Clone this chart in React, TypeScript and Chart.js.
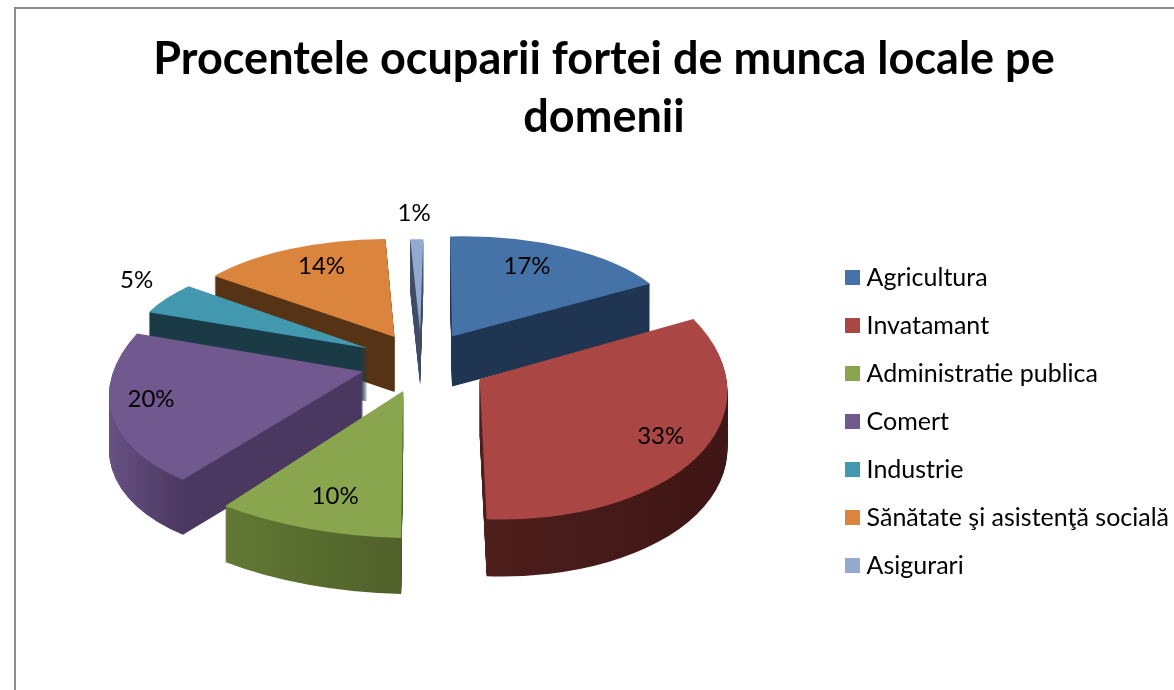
import React, { useEffect, useRef } from "react";
import { Chart, registerables } from "chart.js";
Chart.register(...registerables);

const categories = ["Agricultura", "Invatamant", "Administratie publica", "Comert", "Industrie", "Sănătate şi asistenţă socială", "Asigurari"];
const values = [17, 33, 10, 20, 5, 14, 1];
const title = ["Procentele ocuparii fortei de munca locale pe", "domenii"];

const colors = ["#4572A7", "#AA4643", "#89A54E", "#71588F", "#4198AF", "#DB843D", "#93A9CF"];
const wallStart = ["#1F3552", "#612B27", "#6F8A3C", "#6A5488", "#1A3A45", "#573315", "#3E4C66"];
const wallMid = ["#1F3552", "#4A1D1B", "#4F6029", "#4B3860", "#1A3A45", "#573315", "#3E4C66"];
const wallEnd = ["#1F3552", "#3F1615", "#4F6029", "#4B3860", "#1A3A45", "#573315", "#3E4C66"];
const wallStop = [0.5, 0.56, 0.5, 0.21, 0.5, 0.5, 0.5];

const explode = [59, 67, 61, 62, 61, 57, 60];
const depth = [50, 57, 56, 55, 53, 55, 53];
// Per-slice projection of the flat sector into the tilted 3D view: [a, b, c, d]
const projection = [
  [0.88, -0.021, 0.0078, 0.388],
  [0.96, 0.033, 0.027, 0.543],
  [1.163, 0.026, -0.0078, 0.57],
  [0.972, -0.0107, -0.157, 0.51],
  [0.92, 0.025, -0.086, 0.374],
  [0.877, 0.0166, -0.02, 0.38],
  [0.8, 0, -0.012, 0.36],
];
const labelShift = [
  [75, -70],
  [181, 57],
  [-68, 105],
  [-212, 28],
  [-231, -68],
  [-73, -71],
  [-6, -119],
];

const CX = 422, CY = 362, EXPLODE_Y = 0.5, RADIUS = 258, SWATCH = 15;

const apexOf = (el: any, i: number) => {
  const mid = (el.startAngle + el.endAngle) / 2;
  const o = explode[i];
  return { x: CX + Math.cos(mid) * o, y: CY + Math.sin(mid) * o * EXPLODE_Y };
};

const makeSwatch = (color: string) => {
  const c = document.createElement("canvas");
  c.width = SWATCH;
  c.height = SWATCH;
  const g = c.getContext("2d")!;
  g.fillStyle = color;
  g.fillRect(0, 0, SWATCH, SWATCH);
  return c;
};

const pie3d = {
  id: "pie3d",
  beforeDatasetsDraw(chart: any) {
    const meta = chart.getDatasetMeta(0);
    const ctx = chart.ctx;
    const drawAt = (el: any, i: number, d: number) => {
      const a = apexOf(el, i);
      const [p, q, r, s] = projection[i];
      ctx.save();
      ctx.translate(a.x, a.y + d);
      ctx.transform(p, q, r, s, 0, 0);
      ctx.translate(-el.x, -el.y);
      el.draw(ctx);
      ctx.restore();
    };
    meta.data.forEach((el: any) => {
      el.options.offset = 0;
    });
    const order = meta.data
      .map((_: any, i: number) => i)
      .sort((a: number, b: number) => {
        const f = (e: any) => Math.sin((e.startAngle + e.endAngle) / 2);
        return f(meta.data[a]) - f(meta.data[b]);
      });
    for (const i of order) {
      const el = meta.data[i];
      const g = ctx.createLinearGradient(el.x - RADIUS, 0, el.x + RADIUS, 0);
      g.addColorStop(0, wallStart[i]);
      g.addColorStop(wallStop[i], wallMid[i]);
      g.addColorStop(1, wallEnd[i]);
      const top = el.options.backgroundColor;
      el.options.backgroundColor = g;
      for (let d = depth[i]; d > 0; d -= 1) drawAt(el, i, d);
      el.options.backgroundColor = top;
    }
    meta.data.forEach((el: any, i: number) => drawAt(el, i, 0));
    ctx.save();
    ctx.font = "24px Lato";
    ctx.fillStyle = "#000";
    ctx.textAlign = "center";
    ctx.textBaseline = "middle";
    meta.data.forEach((el: any, i: number) => {
      const a = apexOf(el, i);
      ctx.fillText(values[i] + "%", a.x + labelShift[i][0], a.y + labelShift[i][1]);
    });
    ctx.restore();
    return false;
  },
};

export default function App() {
  const ref = useRef<HTMLCanvasElement>(null);
  useEffect(() => {
    document.body.style.margin = "0";
    const swatches = colors.map(makeSwatch);
    const baseLabels = (Chart as any).overrides.doughnut.plugins.legend.labels.generateLabels;
    const chart = new Chart(ref.current!, {
      type: "pie",
      data: {
        labels: categories,
        datasets: [{ data: values, backgroundColor: colors, borderWidth: 0, offset: explode.map((o) => o * 4), radius: RADIUS }],
      },
      options: {
        responsive: false,
        animation: false,
        layout: { padding: { left: 29, right: -5, top: 0, bottom: 0 } },
        plugins: {
          tooltip: { enabled: false },
          title: {
            display: true,
            text: title,
            color: "#000",
            font: { family: "Lato", size: 45, weight: "bold", lineHeight: 1.29 },
            padding: { top: 30, bottom: 7 },
          },
          legend: {
            position: "right",
            align: "center",
            fullSize: false,
            labels: {
              color: "#000",
              font: { family: "Lato", size: 25 },
              usePointStyle: true,
              pointStyleWidth: 4,
              boxHeight: SWATCH,
              padding: 23,
              generateLabels: (c: any) =>
                baseLabels(c).map((item: any, i: number) => ({ ...item, pointStyle: swatches[i] })),
            },
          },
        },
      },
      plugins: [pie3d],
    } as any);
    return () => chart.destroy();
  }, []);
  return (
    <div style={{ position: "relative", width: 1174, height: 690, overflow: "hidden", background: "#fff" }}>
      <div style={{ position: "absolute", left: 14, top: 7, width: 1300, height: 800, border: "2px solid #8c8c8c" }} />
      <canvas ref={ref} width={1174} height={690} style={{ position: "absolute", left: 0, top: 0 }} />
    </div>
  );
}
